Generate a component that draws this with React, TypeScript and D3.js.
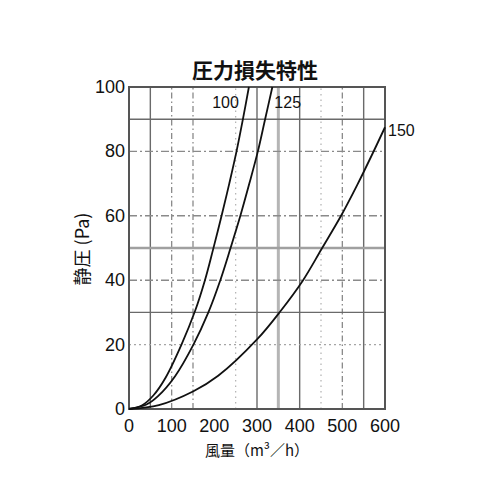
import * as d3 from "d3";

// readings: [風量 m3/h, 静圧 Pa]
const curve100: [number, number][] = [
  [0, 0], [30, 1.1], [57, 4.2], [86, 9.8], [123, 20], [155, 30.5], [178, 40],
  [197, 49.5], [217, 60], [235, 70], [252, 80], [267, 90], [281, 100],
];
const curve125: [number, number][] = [
  [0, 0], [41, 1.4], [68, 4], [108, 10.2], [151, 20], [186, 30], [214, 40],
  [238, 50], [261, 60], [282, 70], [302, 80], [319, 90], [336, 100],
];
const curve150: [number, number][] = [
  [0, 0], [70, 1.2], [151, 5.5], [209, 10.3], [300, 21.6], [354, 30.2], [408, 40],
  [451, 49.6], [497, 60], [535, 69.6], [569, 78.8], [600, 87.5],
];

const xTicks = [0, 100, 200, 300, 400, 500, 600];
const yTicks = [0, 20, 40, 60, 80, 100];

// grid lines as they appear in the scan
const vSolid = [50, 300, 400, 550];
const vDashed = [100, 150, 500];
const vDotted = [250, 450];
const vThick = [350];
const hSolid = [30, 90];
const hDashed = [40, 60, 80];
const hDotted = [20];
const hThick = [50];

const title = "圧力損失特性";
const xLabel = "風量（m³／h）";
const yLabel = "静圧 (Pa)";

const width = 500;
const height = 500;
const margin = { top: 87, right: 115, bottom: 91, left: 129 };

export default function App() {
  const x = d3
    .scaleLinear()
    .domain([0, 600])
    .range([margin.left, width - margin.right]);
  const y = d3
    .scaleLinear()
    .domain([0, 100])
    .range([height - margin.bottom, margin.top]);

  const line = d3
    .line<[number, number]>()
    .x((d) => x(d[0]))
    .y((d) => y(d[1]))
    .curve(d3.curveCatmullRom.alpha(0.5));

  const latin = "'Liberation Sans', Arial, sans-serif";
  const cjk = "'Noto Sans CJK JP', sans-serif";

  const vLines = (vals: number[], stroke: string, sw: number, dash?: string) =>
    vals.map((v) => (
      <line
        key={"v" + v}
        x1={x(v)}
        x2={x(v)}
        y1={y(0)}
        y2={y(100)}
        stroke={stroke}
        strokeWidth={sw}
        strokeDasharray={dash}
      />
    ));
  const hLines = (vals: number[], stroke: string, sw: number, dash?: string) =>
    vals.map((v) => (
      <line
        key={"h" + v}
        x1={x(0)}
        x2={x(600)}
        y1={y(v)}
        y2={y(v)}
        stroke={stroke}
        strokeWidth={sw}
        strokeDasharray={dash}
      />
    ));

  return (
    <div style={{ position: "absolute", left: 0, top: 0 }}>
      <svg width={width} height={height} style={{ display: "block", background: "#fff" }}>
        {/* grid */}
        <g>
          {vLines(vSolid, "#6a6a6a", 1.4)}
          {vLines(vDashed, "#8a8a8a", 1.3, "6 3 1.5 3")}
          {vLines(vDotted, "#b0b0b0", 1.2, "1.5 4")}
          {vLines(vThick, "#b5b5b5", 3)}
          {hLines(hSolid, "#6a6a6a", 1.4)}
          {hLines(hDashed, "#8a8a8a", 1.4, "8 3 2 3")}
          {hLines(hDotted, "#a5a5a5", 1.3, "2 3")}
          {hLines(hThick, "#a0a0a0", 2.6)}
        </g>

        {/* frame */}
        <rect
          x={x(0)}
          y={y(100)}
          width={x(600) - x(0)}
          height={y(0) - y(100)}
          fill="none"
          stroke="#555"
          strokeWidth={2}
        />

        {/* curves */}
        <g fill="none" stroke="#111" strokeWidth={1.8}>
          <path d={line(curve100) ?? ""} />
          <path d={line(curve125) ?? ""} />
          <path d={line(curve150) ?? ""} />
        </g>

        {/* curve labels */}
        <g fontFamily={latin} fontSize={16} fill="#111">
          <text x={x(195)} y={y(100) + 21}>100</text>
          <text x={x(336) + 2} y={y(100) + 21}>125</text>
          <text x={x(600) + 3} y={y(87) + 7}>150</text>
        </g>

        {/* x ticks */}
        <g fontFamily={latin} fontSize={18} fill="#111" textAnchor="middle">
          {xTicks.map((t) => (
            <text key={t} x={x(t)} y={y(0) + 23}>
              {t}
            </text>
          ))}
        </g>

        {/* y ticks */}
        <g fontFamily={latin} fontSize={18} fill="#111" textAnchor="end">
          {yTicks.map((t) => (
            <text key={t} x={x(0) - 4} y={y(t) + 6}>
              {t}
            </text>
          ))}
        </g>

        {/* title & axis labels */}
        <text
          x={255}
          y={78}
          textAnchor="middle"
          fontFamily={cjk}
          fontWeight="bold"
          fontSize={21}
          fill="#111"
        >
          {title}
        </text>
        <text
          x={257}
          y={456}
          textAnchor="middle"
          fontFamily={cjk}
          fontSize={15}
          fill="#111"
        >
          {xLabel}
        </text>
        <text
          transform={`translate(89, 249) rotate(-90)`}
          textAnchor="middle"
          fontFamily={cjk}
          fontSize={18}
          fill="#111"
        >
          {yLabel}
        </text>
      </svg>
    </div>
  );
}
